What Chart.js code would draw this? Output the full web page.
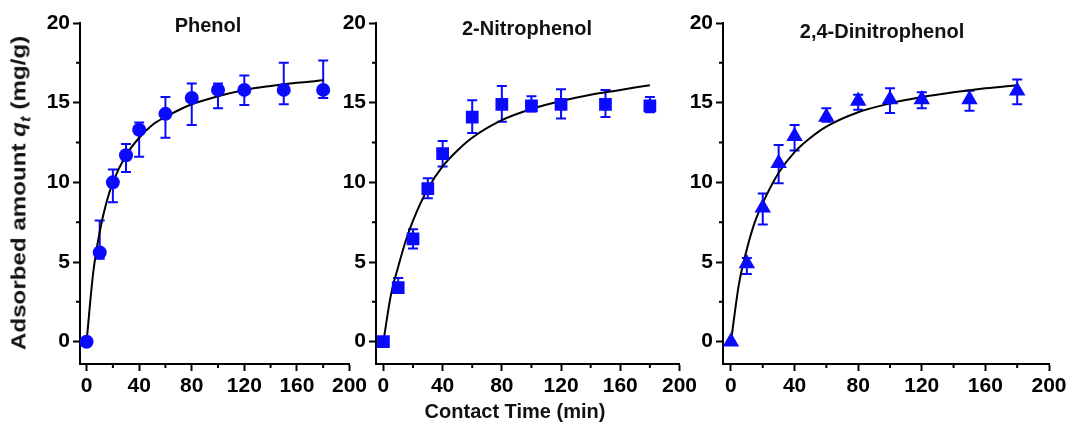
<!DOCTYPE html>
<html><head><meta charset="utf-8">
<script src="https://cdn.jsdelivr.net/npm/chart.js@4.4.1/dist/chart.umd.min.js"></script>
<style>
html,body{margin:0;padding:0;background:#fff;}
#wrap{position:relative;width:1073px;height:428px;overflow:hidden;background:#fff;font-family:"Liberation Sans",Arial,sans-serif;}
canvas{position:absolute;top:0;}
.ttl{position:absolute;font-weight:bold;font-size:20px;white-space:nowrap;transform:translate(-50%,-50%);color:#111;}
#ytitle{position:absolute;left:20px;top:193px;font-weight:bold;font-size:21px;white-space:nowrap;transform:translate(-50%,-50%) rotate(-90deg) scaleX(1.15);color:#111;}
#xtitle{position:absolute;left:515px;top:411px;font-weight:bold;font-size:20px;white-space:nowrap;transform:translate(-50%,-50%);color:#111;}
</style></head>
<body>
<div id="wrap">
  <canvas id="c1" width="370" height="428" style="left:0px"></canvas>
  <canvas id="c2" width="370" height="428" style="left:330px"></canvas>
  <canvas id="c3" width="393" height="428" style="left:680px"></canvas>
  <div class="ttl" style="left:208px;top:25px">Phenol</div>
  <div class="ttl" style="left:527px;top:28px">2-Nitrophenol</div>
  <div class="ttl" style="left:882px;top:31px">2,4-Dinitrophenol</div>
  <div id="ytitle">Adsorbed amount <i>q<sub style="font-size:0.7em">t</sub></i> (mg/g)</div>
  <div id="xtitle">Contact Time (min)</div>
</div>
<script>
// ---- data ----
const timeMin = [0,10,20,30,40,60,80,100,120,150,180];

const phenolQ      = [0,5.6,10.0,11.7,13.3,14.3,15.3,15.8,15.8,15.8,15.8];
const phenolErrHi  = [0,7.6,10.8,12.4,13.75,15.35,16.2,16.2,16.7,17.5,17.65];
const phenolErrLo  = [0,5.2,8.75,10.65,11.6,12.8,13.6,14.65,14.85,14.9,15.3];

const nitroQ       = [0,3.4,6.45,9.6,11.8,14.1,14.9,14.8,14.9,14.9,14.8];
const nitroErrHi   = [0,4.0,7.05,10.25,12.6,15.15,16.05,15.4,15.85,15.8,15.35];
const nitroErrLo   = [0,3.05,5.85,9.0,11.0,13.1,13.8,14.45,14.0,14.1,14.4];

const dinitroQ     = [0,4.9,8.4,11.2,12.9,14.1,15.1,15.2,15.2,15.2,15.75];
const dinitroErrHi = [0,5.25,9.3,12.35,13.6,14.65,15.5,15.9,15.65,15.75,16.45];
const dinitroErrLo = [0,4.25,7.35,9.95,12.0,13.8,14.55,14.35,14.65,14.5,14.9];

const fitT       = [0,5,10,15,20,30,40,50,60,80,100,120,140,160,180];
const phenolFit  = [0,4.3,6.9,8.7,10.0,11.7,12.8,13.6,14.1,14.9,15.4,15.8,16.05,16.25,16.4];
const nitroFit   = [0,2.9,4.7,6.3,7.6,9.6,11.0,12.0,12.8,13.9,14.6,15.1,15.5,15.8,16.1];
const dinitroFit = [0,3.6,5.8,7.5,8.7,10.6,11.9,12.8,13.5,14.4,14.95,15.35,15.65,15.9,16.1];

const xTickValues = [0,40,80,120,160,200];
const xMinorTicks = [20,60,100,140,180];
const yTickValues = [0,5,10,15,20];
const yMinorTicks = [2.5,7.5,12.5,17.5];

// ---- style ----
const BLUE = '#0a0aff';
const FONT = {family:'"Liberation Sans", Arial, sans-serif', size:21, weight:'bold'};

const errorBarPlugin = {
  id:'errorBars',
  beforeDatasetsDraw(chart, args, opts){
    const {ctx, scales:{x,y}} = chart;
    ctx.save();
    ctx.strokeStyle = BLUE; ctx.lineWidth = 2;
    opts.t.forEach((t,i)=>{
      if (opts.hi[i] === opts.lo[i]) return;
      const px = x.getPixelForValue(t);
      const yh = y.getPixelForValue(opts.hi[i]);
      const yl = y.getPixelForValue(opts.lo[i]);
      ctx.beginPath();
      ctx.moveTo(px,yh); ctx.lineTo(px,yl);
      ctx.moveTo(px-5,yh); ctx.lineTo(px+5,yh);
      ctx.moveTo(px-5,yl); ctx.lineTo(px+5,yl);
      ctx.stroke();
    });
    ctx.restore();
  }
};
const minorTickPlugin = {
  id:'minorTicks',
  afterDraw(chart){
    const {ctx, scales:{x,y}, chartArea} = chart;
    ctx.save(); ctx.strokeStyle='#000'; ctx.lineWidth=2;
    ctx.beginPath();
    xMinorTicks.forEach(v=>{const p=x.getPixelForValue(v); ctx.moveTo(p,chartArea.bottom); ctx.lineTo(p,chartArea.bottom+4);});
    yMinorTicks.forEach(v=>{const p=y.getPixelForValue(v); ctx.moveTo(chartArea.left,p); ctx.lineTo(chartArea.left-4,p);});
    ctx.stroke(); ctx.restore();
  }
};

function makePanel(id, q, hi, lo, fit, pointStyle, radius, yWidth, padRight){
  const pts = timeMin.map((t,i)=>({x:t,y:q[i]}));
  const fitPts = fitT.map((t,i)=>({x:t,y:fit[i]}));
  return new Chart(document.getElementById(id), {
    type:'scatter',
    data:{datasets:[
      {data:fitPts, showLine:true, borderColor:'#000', borderWidth:2, pointRadius:0, cubicInterpolationMode:'monotone', fill:false, order:2},
      {data:pts, pointStyle:pointStyle, pointRadius:radius, backgroundColor:BLUE, borderColor:BLUE, borderWidth:0, order:1}
    ]},
    options:{
      responsive:false, animation:false, devicePixelRatio:1,
      layout:{padding:{left:0,right:padRight,top:23,bottom:0}},
      plugins:{legend:{display:false}, tooltip:{enabled:false},
        errorBars:{t:timeMin, hi:hi, lo:lo}},
      scales:{
        x:{type:'linear', min:-5, max:200,
          afterBuildTicks:s=>{s.ticks = xTickValues.map(v=>({value:v}));},
          afterFit:s=>{s.height=64;},
          grid:{display:true, drawOnChartArea:false, drawTicks:true, tickLength:7, tickWidth:2, tickColor:'#000'},
          border:{display:true, color:'#000', width:2},
          ticks:{color:'#000', font:FONT, padding:3, maxRotation:0, autoSkip:false}
        },
        y:{type:'linear', min:-1.4, max:20,
          afterBuildTicks:s=>{s.ticks = yTickValues.map(v=>({value:v}));},
          afterFit:s=>{s.width=yWidth;},
          grid:{display:true, drawOnChartArea:false, drawTicks:true, tickLength:7, tickWidth:2, tickColor:'#000'},
          border:{display:true, color:'#000', width:2},
          ticks:{color:'#000', font:FONT, padding:3, autoSkip:false}
        }
      }
    },
    plugins:[errorBarPlugin, minorTickPlugin]
  });
}

makePanel('c1', phenolQ, phenolErrHi, phenolErrLo, phenolFit, 'circle', 7, 80, 18);
makePanel('c2', nitroQ, nitroErrHi, nitroErrLo, nitroFit, 'rect', 9, 46, 19);
makePanel('c3', dinitroQ, dinitroErrHi, dinitroErrLo, dinitroFit, 'triangle', 9.5, 43, 24);
</script>
</body></html>
